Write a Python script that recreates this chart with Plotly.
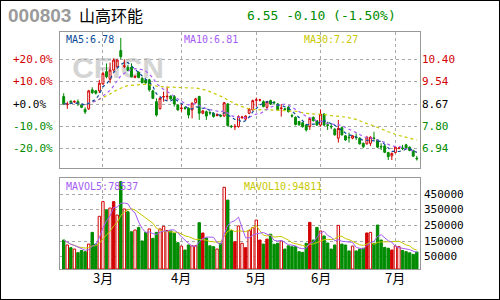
import plotly.graph_objects as go
import pandas as pd

# ---------------- data ----------------
opens = [8.97, 8.66, 8.79, 8.76, 8.77, 8.63, 8.47, 8.49, 9.23, 9.19,
         9.19, 9.46, 9.94, 9.64, 10.00, 10.13, 10.76, 10.14, 10.11, 10.11,
         9.72, 9.91, 9.68, 9.62, 9.62, 9.19, 8.77, 8.50, 8.95, 8.96,
         8.99, 8.97, 8.64, 8.50, 8.53, 8.51, 8.45, 8.73, 8.97, 8.32,
         8.38, 8.35, 8.32, 8.23, 8.24, 8.21, 8.68, 7.82, 7.79, 7.80,
         8.15, 8.09, 8.32, 8.45, 8.82, 8.83, 8.77, 8.55, 8.81, 8.75,
         8.68, 8.50, 8.49, 8.55, 8.23, 8.16, 8.00, 7.95, 7.86, 7.80,
         8.16, 8.03, 7.86, 8.29, 7.87, 7.81, 7.70, 7.35, 7.76, 7.44,
         7.39, 7.35, 7.39, 7.35, 7.15, 7.13, 7.15, 7.36, 7.28, 7.03,
         7.05, 6.79, 6.66, 6.79, 6.95, 6.97, 7.09, 7.00, 6.87, 6.57]
highs = [9.10, 8.77, 8.82, 8.82, 8.86, 8.68, 8.55, 9.23, 9.33, 9.22,
         9.62, 9.94, 10.26, 10.29, 10.46, 10.42, 11.25, 10.42, 10.20, 10.26,
         9.80, 9.95, 9.72, 9.66, 9.66, 9.23, 8.90, 8.94, 9.16, 9.36,
         9.02, 9.03, 8.68, 8.68, 8.58, 8.55, 8.74, 8.92, 9.00, 8.45,
         8.42, 8.40, 8.36, 8.32, 8.28, 8.76, 8.72, 7.86, 7.90, 8.24,
         8.22, 8.24, 8.52, 8.85, 8.93, 8.88, 8.82, 8.80, 8.85, 8.80,
         8.72, 8.68, 8.53, 8.60, 8.30, 8.20, 8.02, 7.98, 7.90, 8.15,
         8.19, 8.05, 8.47, 8.32, 7.99, 7.93, 7.74, 8.06, 7.80, 7.47,
         7.57, 7.47, 7.54, 7.38, 7.18, 7.42, 7.42, 7.60, 7.31, 7.15,
         7.08, 6.82, 6.79, 7.03, 7.00, 7.09, 7.13, 7.03, 6.90, 6.66]
lows = [8.64, 8.49, 8.70, 8.72, 8.60, 8.52, 8.29, 8.45, 9.07, 9.05,
        9.10, 9.42, 9.68, 9.49, 9.94, 10.07, 10.42, 10.07, 9.95, 9.72,
        9.68, 9.68, 9.48, 9.46, 9.16, 8.87, 8.19, 8.46, 8.77, 8.81,
        8.84, 8.58, 8.42, 8.38, 8.45, 8.12, 8.12, 8.70, 8.06, 8.28,
        8.06, 8.25, 8.15, 8.20, 8.16, 8.18, 7.80, 7.74, 7.67, 7.76,
        8.10, 8.06, 8.28, 8.42, 8.58, 8.78, 8.55, 8.50, 8.64, 8.65,
        8.42, 8.19, 8.43, 8.35, 8.15, 7.85, 7.83, 7.76, 7.61, 7.67,
        8.00, 7.83, 7.80, 7.83, 7.67, 7.70, 7.45, 7.18, 7.45, 7.25,
        7.18, 7.31, 7.28, 7.10, 6.96, 7.10, 7.05, 7.28, 6.97, 6.89,
        6.77, 6.50, 6.50, 6.76, 6.92, 6.89, 6.93, 6.84, 6.63, 6.48]
closes = [8.68, 8.68, 8.74, 8.78, 8.68, 8.55, 8.37, 9.19, 9.12, 9.10,
          9.49, 9.87, 9.74, 10.00, 10.39, 10.39, 10.52, 10.16, 9.98, 9.74,
          9.75, 9.71, 9.51, 9.50, 9.23, 8.90, 8.25, 8.90, 8.97, 8.98,
          8.88, 8.68, 8.45, 8.52, 8.51, 8.25, 8.71, 8.88, 8.32, 8.41,
          8.21, 8.33, 8.19, 8.26, 8.21, 8.73, 7.84, 7.80, 7.81, 8.19,
          8.17, 8.21, 8.48, 8.81, 8.84, 8.84, 8.58, 8.77, 8.68, 8.73,
          8.45, 8.52, 8.47, 8.38, 8.21, 7.88, 7.87, 7.80, 7.67, 8.12,
          8.03, 7.86, 8.29, 7.86, 7.85, 7.79, 7.48, 7.73, 7.48, 7.28,
          7.37, 7.44, 7.37, 7.13, 7.02, 7.39, 7.39, 7.34, 7.00, 7.01,
          6.80, 6.63, 6.76, 7.00, 6.97, 6.95, 6.96, 6.87, 6.65, 6.55]
volumes = [157000, 125000, 108000, 99000, 76000, 90000, 82000, 131000, 206000, 131000,
           309000, 403000, 351000, 362000, 403000, 317000, 531000, 356000, 338000, 210000,
           221000, 238000, 151000, 206000, 228000, 168000, 206000, 228000, 245000, 218000,
           215000, 200000, 140000, 118000, 93000, 125000, 120000, 120000, 268000, 202000,
           170000, 120000, 114000, 99000, 136000, 495000, 413000, 217000, 146000, 247000,
           136000, 108000, 217000, 236000, 285000, 157000, 131000, 163000, 194000, 130000,
           136000, 151000, 99000, 120000, 114000, 114000, 82000, 78000, 136000, 270000,
           157000, 238000, 215000, 183000, 138000, 99000, 125000, 251000, 131000, 125000,
           87000, 118000, 87000, 99000, 104000, 202000, 206000, 136000, 253000, 157000,
           110000, 104000, 93000, 118000, 114000, 90000, 82000, 75000, 65000, 80000]
# volume bar style: g = green filled, r = red hollow, R = red filled
vol_style = list("grgrgggrgg" "rrgrRrgrgg" "rgggrggrrr" "gggrggrrgR"
                 "gggrgrggRr" "rRrrrRgRgg" "grgggggggR" "ggrggggrgg"
                 "grgggRrggg" "ggRrrggggg")
month_ticks = [11, 33, 54, 72, 93]
month_labels = ["3月", "4月", "5月", "6月", "7月"]
base_price = 8.67
pct_levels = [20, 10, 0, -10, -20]
vol_levels = [450000, 350000, 250000, 150000, 50000]
legend_top = ["MA5:6.78", "MA10:6.81", "MA30:7.27"]
legend_vol = ["MAVOL5:78537", "MAVOL10:94811"]
header_code = "000803"
header_name = "山高环能"
header_quote = "6.55 -0.10 (-1.50%)"

# ---------------- styling ----------------
RED = "#d20000"
GREEN = "#008c00"
BLUE = "#0c4a98"
PURPLE = "#a55cf5"
YELLOW = "#c8c800"
GRID = "#a8a8a8"
FRAME = "#999999"
MONO = "DejaVu Sans Mono"
CJK = "Noto Sans CJK SC"

n = len(closes)
idx = list(range(n))
cs = pd.Series(closes)
ma5 = cs.rolling(5, min_periods=1).mean()
ma10 = cs.rolling(10, min_periods=1).mean()
ma30 = cs.rolling(30, min_periods=1).mean()
vs = pd.Series(volumes)
mv5 = vs.rolling(5, min_periods=1).mean()
mv10 = vs.rolling(10, min_periods=1).mean()

price_levels = [base_price * (1 + p / 100) for p in pct_levels]
XR = [-1.04, 99.9]
YR = [6.19, 11.48]
VR = [-28800, 554500]

fig = go.Figure()
fig.add_trace(go.Candlestick(
    x=idx, open=opens, high=highs, low=lows, close=closes,
    increasing=dict(line=dict(color=RED, width=1), fillcolor="white"),
    decreasing=dict(line=dict(color=GREEN, width=1), fillcolor=GREEN),
    whiskerwidth=0, xaxis="x", yaxis="y", showlegend=False, hoverinfo="skip"))
for s, col in [(ma30, YELLOW), (ma10, PURPLE), (ma5, BLUE)]:
    fig.add_trace(go.Scatter(x=idx, y=s, mode="lines", xaxis="x", yaxis="y",
                             line=dict(color=col, width=1.2, dash="dot"),
                             showlegend=False, hoverinfo="skip"))

fill_map = {"g": GREEN, "r": "white", "R": RED}
line_map = {"g": GREEN, "r": RED, "R": RED}
fig.add_trace(go.Bar(
    x=idx, y=[v - VR[0] for v in volumes], base=VR[0], width=0.68,
    marker=dict(color=[fill_map[s] for s in vol_style],
                line=dict(color=[line_map[s] for s in vol_style], width=1)),
    xaxis="x2", yaxis="y2", showlegend=False, hoverinfo="skip"))
for s, col in [(mv10, YELLOW), (mv5, PURPLE)]:
    fig.add_trace(go.Scatter(x=idx, y=s, mode="lines", xaxis="x2", yaxis="y2",
                             line=dict(color=col, width=1),
                             showlegend=False, hoverinfo="skip"))

axis_common = dict(showgrid=True, gridcolor=GRID, griddash="dot", gridwidth=1,
                   showline=True, mirror=True, linecolor=FRAME, linewidth=1,
                   zeroline=False, ticks="", fixedrange=True)
X0, X1 = 60 / 500, 420 / 500
fig.update_layout(
    width=500, height=300, margin=dict(l=0, r=0, t=0, b=0),
    paper_bgcolor="white", plot_bgcolor="white", bargap=0.3, boxgap=0.25,
    xaxis=dict(domain=[X0, X1], range=XR, anchor="y", tickvals=month_ticks,
               showticklabels=False, rangeslider=dict(visible=False), **axis_common),
    yaxis=dict(domain=[1 - 168 / 300, 1 - 32 / 300], range=YR, anchor="x",
               tickvals=price_levels, showticklabels=False, **axis_common),
    xaxis2=dict(domain=[X0, X1], range=XR, anchor="y2", tickvals=month_ticks,
                showticklabels=False, **axis_common),
    yaxis2=dict(domain=[1 - 269 / 300, 1 - 178 / 300], range=VR, anchor="x2",
                tickvals=vol_levels, showticklabels=False, **axis_common),
)

ann = []
def lab_color(p):
    return RED if p > 0 else ("black" if p == 0 else GREEN)
for p, lv in zip(pct_levels, price_levels):
    ann.append(dict(x=11 / 500, xref="paper", y=lv, yref="y", xanchor="left",
                    yanchor="middle", text=f"{p:+.1f}%", showarrow=False,
                    font=dict(family=MONO, size=11, color=lab_color(p))))
    ann.append(dict(x=420 / 500, xref="paper", y=lv, yref="y", xanchor="left",
                    yanchor="middle", text=f"{lv:.2f}", showarrow=False,
                    font=dict(family=MONO, size=11, color=lab_color(p))))
for v in vol_levels:
    ann.append(dict(x=422 / 500, xref="paper", y=v, yref="y2", xanchor="left",
                    yanchor="middle", text=str(v), showarrow=False,
                    font=dict(family=MONO, size=11, color="black")))
for mt, ml in zip(month_ticks, month_labels):
    ann.append(dict(x=mt, xref="x2", y=1 - 277.5 / 300, yref="paper",
                    xanchor="center", yanchor="middle", text=ml, showarrow=False,
                    font=dict(family=CJK, size=13, color="black")))
for t, xp, col in zip(legend_top, [64, 182, 302], [BLUE, PURPLE, YELLOW]):
    ann.append(dict(x=xp / 500, xref="paper", y=1 - 39.5 / 300, yref="paper",
                    xanchor="left", yanchor="middle", text=t, showarrow=False,
                    font=dict(family=MONO, size=10, color=col)))
for t, xp, col in zip(legend_vol, [64, 242], [PURPLE, YELLOW]):
    ann.append(dict(x=xp / 500, xref="paper", y=1 - 186 / 300, yref="paper",
                    xanchor="left", yanchor="middle", text=t, showarrow=False,
                    font=dict(family=MONO, size=10, color=col)))
ann.append(dict(x=6 / 500, xref="paper", y=1 - 15.5 / 300, yref="paper",
                xanchor="left", yanchor="middle", text=header_code, showarrow=False,
                font=dict(family="Liberation Sans", size=19, color="#9a9a9a", weight="bold")))
ann.append(dict(x=77 / 500, xref="paper", y=1 - 15 / 300, yref="paper",
                xanchor="left", yanchor="middle", text=header_name, showarrow=False,
                font=dict(family=CJK, size=16, color="black")))
ann.append(dict(x=245 / 500, xref="paper", y=1 - 15 / 300, yref="paper",
                xanchor="left", yanchor="middle", text=header_quote, showarrow=False,
                font=dict(family=MONO, size=13, color=GREEN)))
fig.update_layout(annotations=ann)

fig.update_layout(shapes=[
    dict(type="rect", xref="paper", yref="paper", x0=68 / 500, x1=168 / 500,
         y0=1 - 76 / 300, y1=1 - 53 / 300, line=dict(width=0),
         fillcolor="rgba(0,0,0,0)", layer="below",
         label=dict(text="<b>CFICN</b>",
                    font=dict(family="Liberation Sans", size=30, color="#d4d4d4"))),
    dict(type="rect", xref="paper", yref="paper", x0=0, x1=1, y0=0, y1=1,
         line=dict(color="black", width=2), layer="above"),
])

fig.write_html("out.html")
